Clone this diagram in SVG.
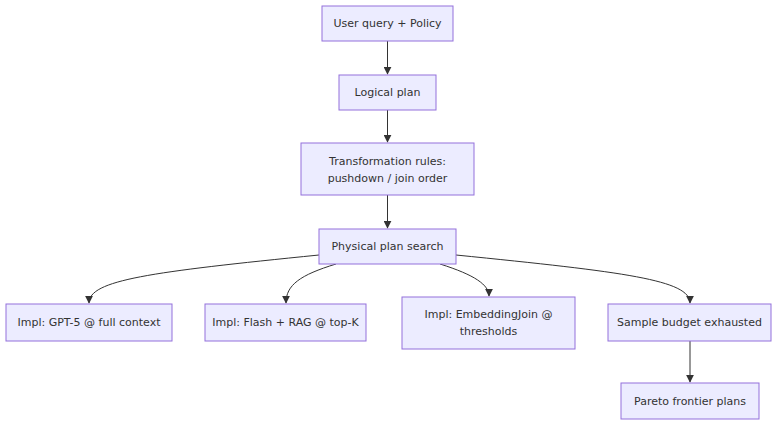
<svg xmlns="http://www.w3.org/2000/svg" width="784" height="429" viewBox="0 0 784 429">
<style>
.n rect{fill:#ECECFF;stroke:#9370DB;stroke-width:1}
.n text{font-family:"DejaVu Sans",sans-serif;font-size:11px;fill:#333;text-anchor:middle;dominant-baseline:central}
.e path{fill:none;stroke:#333;stroke-width:1;marker-end:url(#a)}
</style>
<defs><marker id="a" viewBox="0 0 10 10" refX="9" refY="5" markerWidth="8" markerHeight="8" orient="auto"><path d="M0,0L10,5L0,10z" fill="#333"/></marker></defs>
<rect width="784" height="429" fill="#fff"/>
<g class="e">
<path d="M387.5,41V74"/>
<path d="M387.5,110V142"/>
<path d="M387.5,195V228"/>
<path d="M319,255C150,272 89,280 89,303"/>
<path d="M336,264C300,275 286,285 286,303"/>
<path d="M440,264C475,275 489,285 489,296"/>
<path d="M456,255C625,272 690,280 690,303"/>
<path d="M690,341V382"/>
</g>
<g id="n1" class="n"><rect x="322" y="6" width="131" height="35"/><text x="387.5" y="23.5">User query + Policy</text></g>
<g id="n2" class="n"><rect x="339" y="75" width="97" height="35"/><text x="387.5" y="92.5">Logical plan</text></g>
<g id="n3" class="n"><rect x="301" y="143" width="173" height="52"/><text x="387.5" y="161">Transformation rules:</text><text x="387.5" y="178">pushdown / join order</text></g>
<g id="n4" class="n"><rect x="319" y="229" width="137" height="35"/><text x="387.5" y="246.5">Physical plan search</text></g>
<g id="n5" class="n"><rect x="6" y="304" width="166" height="37"/><text x="89" y="322.5">Impl: GPT-5 @ full context</text></g>
<g id="n6" class="n"><rect x="205" y="304" width="161" height="37"/><text x="285.5" y="322.5">Impl: Flash + RAG @ top-K</text></g>
<g id="n7" class="n"><rect x="402" y="297" width="173" height="52"/><text x="488.5" y="314.5">Impl: EmbeddingJoin @</text><text x="488.5" y="331.5">thresholds</text></g>
<g id="n8" class="n"><rect x="608" y="304" width="163" height="37"/><text x="689.5" y="322.5">Sample budget exhausted</text></g>
<g id="n9" class="n"><rect x="621" y="383" width="138" height="36"/><text x="690" y="401">Pareto frontier plans</text></g>
</svg>
